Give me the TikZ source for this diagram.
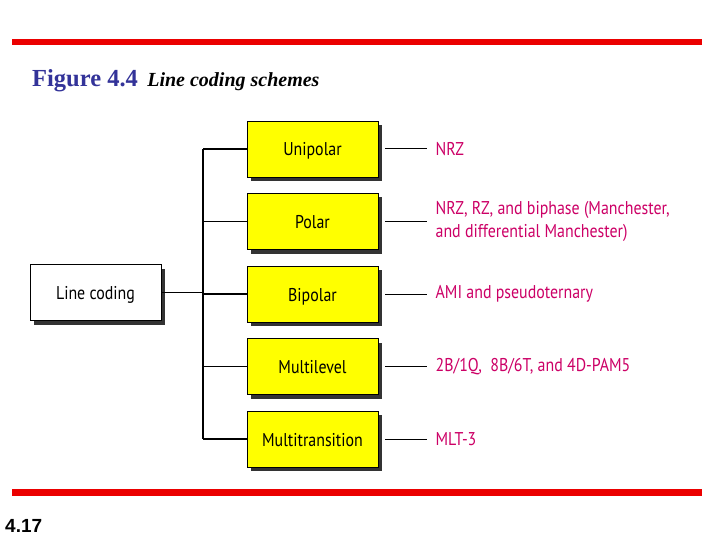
\documentclass[tikz,border=0pt]{standalone}
\usepackage{fontspec}
\setmainfont{Liberation Serif}
\newfontfamily\condfont[FakeStretch=0.86]{PT Sans}
\newfontfamily\arialfont{Liberation Sans}
\usepackage{tikz}
\usetikzlibrary{positioning,shadows}
\definecolor{barred}{RGB}{235,0,0}
\definecolor{figblue}{RGB}{51,51,153}
\definecolor{schemepink}{RGB}{204,0,102}
\definecolor{boxyellow}{RGB}{255,255,0}
\tikzset{
  kind/.style={draw,fill=white,minimum width=131pt,minimum height=56pt,inner sep=0pt,line width=0.9pt,
    text height=14pt,text depth=0pt,
    font=\condfont\fontsize{18.5}{21}\selectfont,
    drop shadow={shadow xshift=4pt,shadow yshift=-4pt,fill=black!80,opacity=1}},
  coding/.style={kind,fill=boxyellow},
  scheme/.style={anchor=west,inner sep=0pt,align=left,text=schemepink,
    font=\condfont\fontsize{18.5}{23}\selectfont},
  wire/.style={line width=1.2pt},
  redbar/.style={fill=barred,draw=none}
}

\begin{document}
\begin{tikzpicture}[x=1pt,y=-1pt,node distance=15.6pt and 57pt]
\useasboundingbox (0,0) rectangle (720,540);
% page frame
\fill[redbar] (12,39.5) rectangle (702,45.5);
\fill[redbar] (12,489) rectangle (702,495.5);
\node[anchor=base west,inner sep=0pt,text=figblue,font=\fontsize{24.5}{26}\selectfont\bfseries] (fig) at (32,87) {Figure 4.4};
\node[inner sep=0pt,font=\fontsize{20}{22}\selectfont\bfseries\itshape,right=9pt of fig.base east,anchor=base west] (cap) {Line coding schemes};
\node[anchor=base west,inner sep=0pt,font=\arialfont\fontsize{19}{21}\selectfont\bfseries] (pg) at (5,532) {4.17};

% tree
\node[kind] (lc) at (95.5,292.5) {Line coding};
\node[coding] (uni) at (312.5,149) {Unipolar};
\node[coding,below=of uni] (pol) {Polar};
\node[coding,below=of pol] (bip) {Bipolar};
\node[coding,below=of bip] (mlv) {Multilevel};
\node[coding,below=of mlv] (mtr) {Multitransition};
\coordinate (trunk) at (203,0);

\node[scheme,right=of uni] (s1) {NRZ};
\node[scheme,right=of pol] (s2) {NRZ, RZ, and biphase (Manchester,\\and differential Manchester)};
\node[scheme,right=of bip] (s3) {AMI and pseudoternary};
\node[scheme,right=of mlv] (s4) {2B/1Q,\ \ 8B/6T, and 4D-PAM5};
\node[scheme,right=of mtr] (s5) {MLT-3};

\draw[wire] (uni.west -| trunk) -- (mtr.west -| trunk);
\draw[wire] (lc.east) -- (lc.east -| trunk);
\foreach \b/\s in {uni/s1,pol/s2,bip/s3,mlv/s4,mtr/s5}{
  \draw[wire] (\b.west -| trunk) -- (\b.west);
  \draw[line width=1pt] ([xshift=7pt]\b.east) -- ([xshift=-8pt]\s.west);
}
\end{tikzpicture}
\end{document}
